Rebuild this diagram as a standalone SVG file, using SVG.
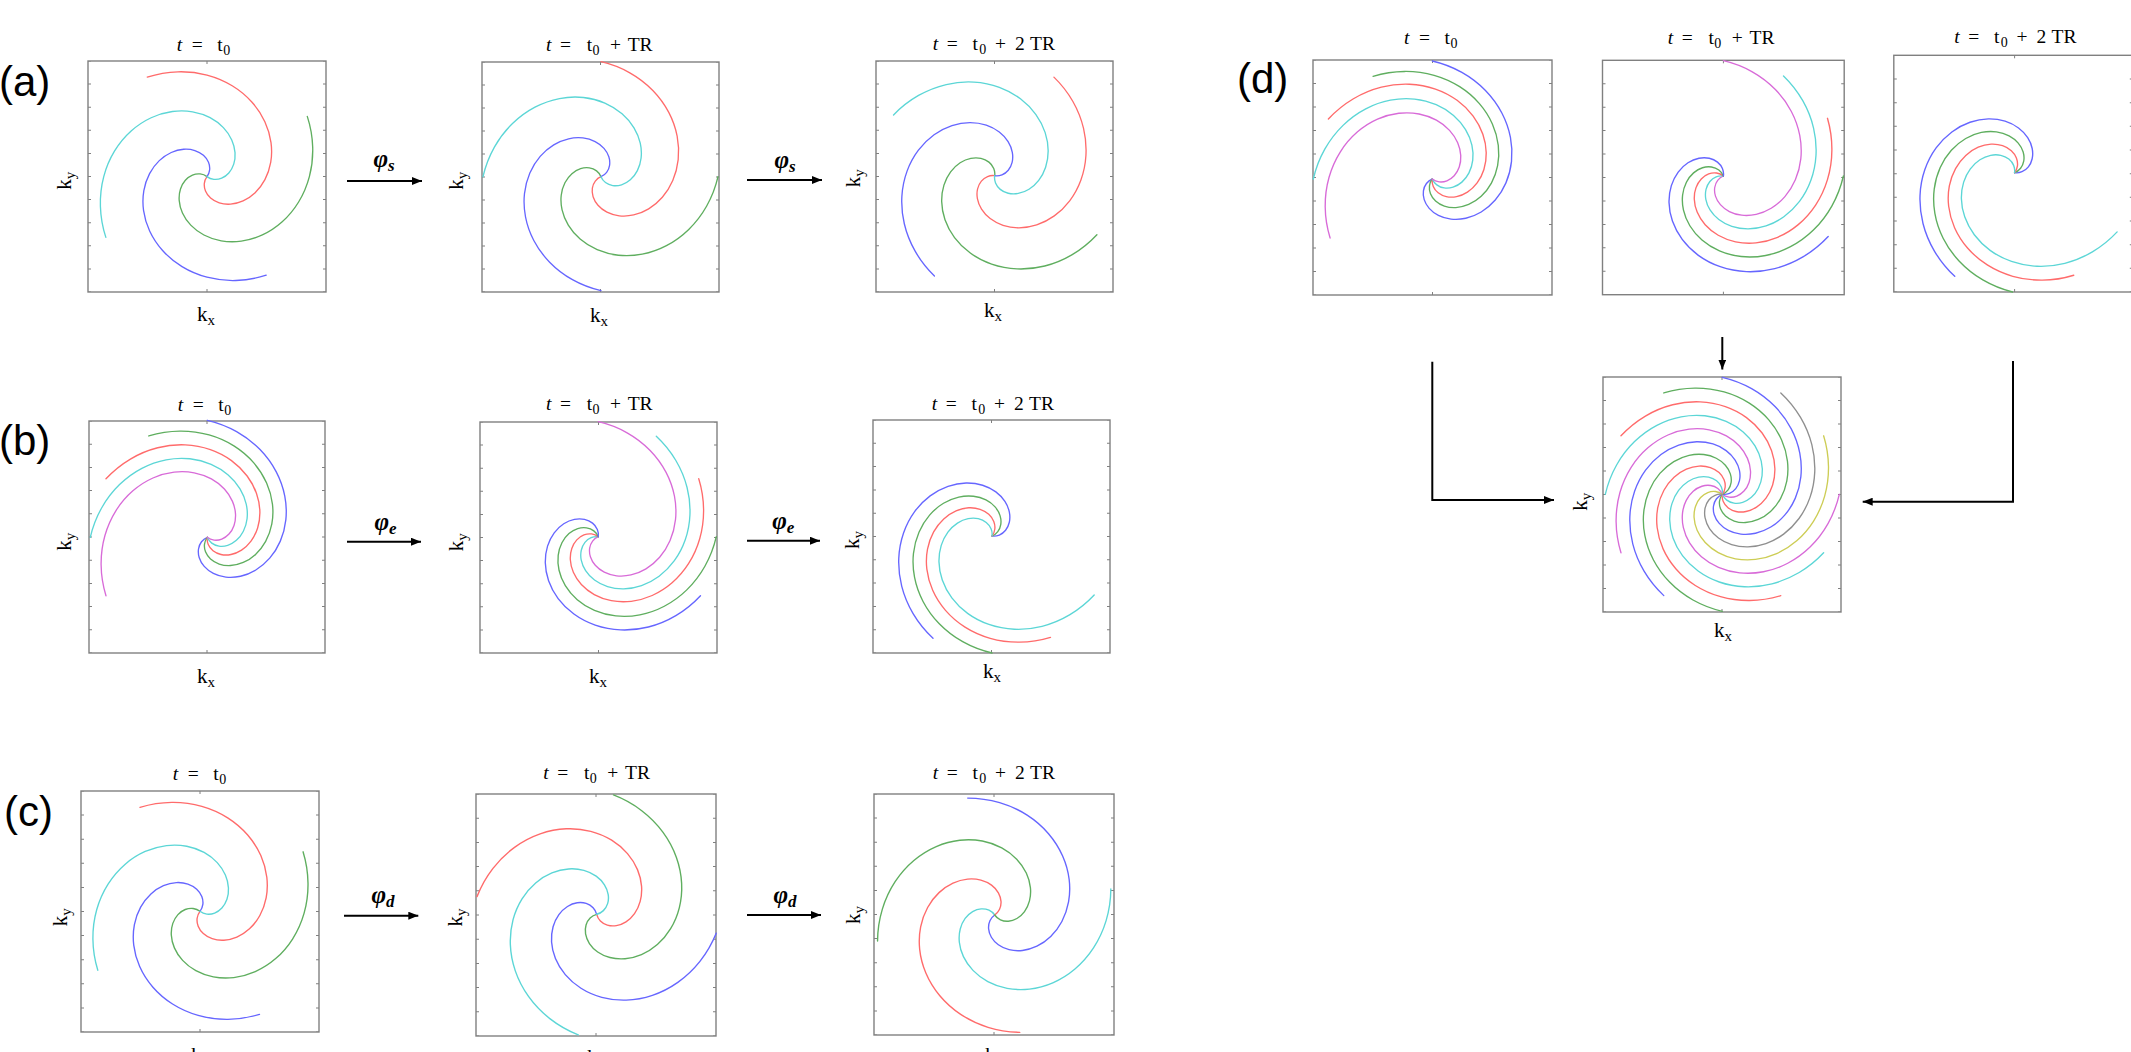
<svg xmlns="http://www.w3.org/2000/svg" width="2131" height="1052" viewBox="0 0 2131 1052">
<defs>
<style>
.bx{fill:none;stroke:#808080;stroke-width:1.4}
.tk{stroke:#808080;stroke-width:3;stroke-dashoffset:.5;fill:none}
.tc{stroke:#808080;stroke-width:1;fill:none}
use.a{fill:none;stroke-width:1.15;stroke-linecap:round}
.r{stroke:#ff6b6b}.g{stroke:#5fae5f}.b{stroke:#6666ff}.c{stroke:#5cd6d6}.m{stroke:#d86bd8}.y{stroke:#cdcd55}.k{stroke:#8f8f8f}
text{fill:#000}
.tt{font-family:"Liberation Serif","DejaVu Serif",serif;font-size:19.5px}
.it{font-style:italic}
.sb{font-size:14px}
.kl{font-family:"Liberation Serif","DejaVu Serif",serif;font-size:21px}
.ks{font-size:15px}
.ph{font-family:"Liberation Serif","DejaVu Serif",serif;font-size:25px;font-weight:bold;font-style:italic}
.ps{font-size:17px}
.pl{font-family:"Liberation Sans",Arial,sans-serif;font-size:42px}
.ar{stroke:#000;stroke-width:2;fill:none}
</style>
<path id="arm" d="M0 0C2.08 0 4.16-.57 6.02-1.67C7.88-2.77 9.51-4.4 10.71-6.44C11.92-8.48 12.7-10.93 12.91-13.6C13.12-16.28 12.75-19.17 11.74-22.07C10.73-24.97 9.06-27.87 6.76-30.51C4.46-33.15 1.53-35.55-1.96-37.45C-5.45-39.35-9.48-40.77-13.88-41.49C-18.28-42.21-23.06-42.24-27.96-41.45C-32.86-40.66-37.89-39.030-42.77-36.53C-47.65-34.03-52.37-30.64-56.64-26.41C-60.91-22.18-64.73-17.12-67.81-11.35C-70.89-5.58-73.23 .9-74.59 7.84C-75.96 14.78-76.35 22.2-75.6 29.78C-74.85 37.36-72.97 45.1-69.88 52.66C-66.8 60.22-62.51 67.58-57.07 74.38C-51.63 81.18-45.04 87.41-37.46 92.72"/>
<marker id="ah" viewBox="0 0 10 8" markerWidth="10" markerHeight="8" refX="10" refY="4" orient="auto" markerUnits="userSpaceOnUse"><path d="M0 0L10 4L0 8z" fill="#000"/></marker>
</defs>
<rect width="2131" height="1052" fill="#fff"/>

<g id="labels">
<text class="pl" x="-1" y="96">(a)</text>
<text class="pl" x="-1" y="455">(b)</text>
<text class="pl" x="4" y="826">(c)</text>
<text class="pl" x="1237" y="93">(d)</text>
</g>

<g id="panel-a1">
<rect class="bx" x="88" y="61" width="238" height="231"/>
<line class="tk" x1="89.5" y1="61" x2="89.5" y2="292" style="stroke-dasharray:1 22.1"/>
<line class="tk" x1="324.5" y1="61" x2="324.5" y2="292" style="stroke-dasharray:1 22.1"/>
<path class="tc" d="M207 61v3M207 292v-3"/>
<use href="#arm" class="a r" transform="translate(207 176.6) rotate(127) scale(1.16)"/>
<use href="#arm" class="a g" transform="translate(207 176.6) rotate(217) scale(1.17)"/>
<use href="#arm" class="a b" transform="translate(207 176.6) rotate(307) scale(1.15)"/>
<use href="#arm" class="a c" transform="translate(207 176.6) rotate(37) scale(1.18)"/>
<text class="tt"><tspan class="it" x="176.7" y="50.5">t</tspan><tspan x="191.7" y="50.5">=</tspan><tspan x="217.3" y="50.5">t</tspan><tspan class="sb" x="223.2" y="54.5">0</tspan></text>
<text class="kl" x="206" y="320.7" text-anchor="middle">k<tspan class="ks" dy="4">x</tspan></text>
<text class="kl" text-anchor="middle" transform="translate(71 180.8) rotate(-90)">k<tspan class="ks" dy="4">y</tspan></text>
</g>

<g id="panel-a2">
<rect class="bx" x="482" y="62" width="237" height="230"/>
<line class="tk" x1="483.5" y1="62" x2="483.5" y2="292" style="stroke-dasharray:1 22"/>
<line class="tk" x1="717.5" y1="62" x2="717.5" y2="292" style="stroke-dasharray:1 22"/>
<path class="tc" d="M600.5 62v3M600.5 292v-3"/>
<use href="#arm" class="a r" transform="translate(601 176.7) rotate(158) scale(1.15)"/>
<use href="#arm" class="a g" transform="translate(601 176.7) rotate(248) scale(1.17)"/>
<use href="#arm" class="a b" transform="translate(601 176.7) rotate(338) scale(1.14)"/>
<use href="#arm" class="a c" transform="translate(601 176.7) rotate(68) scale(1.18)"/>
<text class="tt"><tspan class="it" x="546" y="50.5">t</tspan><tspan x="560" y="50.5">=</tspan><tspan x="586.7" y="50.5">t</tspan><tspan class="sb" x="592.5" y="54.5">0</tspan><tspan x="610" y="50.5">+</tspan><tspan x="627.7" y="50.5">TR</tspan></text>
<text class="kl" x="599" y="321.7" text-anchor="middle">k<tspan class="ks" dy="4">x</tspan></text>
<text class="kl" text-anchor="middle" transform="translate(463.3 180.8) rotate(-90)">k<tspan class="ks" dy="4">y</tspan></text>
</g>

<g id="panel-a3">
<rect class="bx" x="876" y="61" width="237" height="231"/>
<line class="tk" x1="877.5" y1="61" x2="877.5" y2="292" style="stroke-dasharray:1 22.1"/>
<line class="tk" x1="1111.5" y1="61" x2="1111.5" y2="292" style="stroke-dasharray:1 22.1"/>
<path class="tc" d="M994.5 61v3M994.5 292v-3"/>
<use href="#arm" class="a r" transform="translate(994.7 175.7) rotate(189) scale(1.15)"/>
<use href="#arm" class="a g" transform="translate(994.7 175.7) rotate(278) scale(1.18)"/>
<use href="#arm" class="a b" transform="translate(994.7 175.7) rotate(9) scale(1.17)"/>
<use href="#arm" class="a c" transform="translate(994.7 175.7) rotate(99) scale(1.18)"/>
<text class="tt"><tspan class="it" x="932.7" y="50">t</tspan><tspan x="946.7" y="50">=</tspan><tspan x="972.4" y="50">t</tspan><tspan class="sb" x="979.2" y="54">0</tspan><tspan x="995" y="50">+</tspan><tspan x="1015" y="50">2</tspan><tspan x="1030" y="50">TR</tspan></text>
<text class="kl" x="993" y="316.7" text-anchor="middle">k<tspan class="ks" dy="4">x</tspan></text>
<text class="kl" text-anchor="middle" transform="translate(860 178.3) rotate(-90)">k<tspan class="ks" dy="4">y</tspan></text>
</g>

<g id="panel-b1">
<rect class="bx" x="89" y="421" width="236" height="232"/>
<line class="tk" x1="90.5" y1="421" x2="90.5" y2="653" style="stroke-dasharray:1 22.2"/>
<line class="tk" x1="323.5" y1="421" x2="323.5" y2="653" style="stroke-dasharray:1 22.2"/>
<path class="tc" d="M207 421v3M207 653v-3"/>
<use href="#arm" class="a b" transform="translate(207.3 537.3) rotate(158) scale(1.17)"/>
<use href="#arm" class="a g" transform="translate(207.3 537.3) rotate(128) scale(1.17)"/>
<use href="#arm" class="a r" transform="translate(207.3 537.3) rotate(98) scale(1.17)"/>
<use href="#arm" class="a c" transform="translate(207.3 537.3) rotate(68) scale(1.17)"/>
<use href="#arm" class="a m" transform="translate(207.3 537.3) rotate(38) scale(1.17)"/>
<text class="tt"><tspan class="it" x="177.7" y="410.5">t</tspan><tspan x="192.7" y="410.5">=</tspan><tspan x="218.3" y="410.5">t</tspan><tspan class="sb" x="224.2" y="414.5">0</tspan></text>
<text class="kl" x="206" y="683.3" text-anchor="middle">k<tspan class="ks" dy="4">x</tspan></text>
<text class="kl" text-anchor="middle" transform="translate(71 541.7) rotate(-90)">k<tspan class="ks" dy="4">y</tspan></text>
</g>

<g id="panel-b2">
<rect class="bx" x="480" y="422" width="237" height="231"/>
<line class="tk" x1="481.5" y1="422" x2="481.5" y2="653" style="stroke-dasharray:1 22.1"/>
<line class="tk" x1="715.5" y1="422" x2="715.5" y2="653" style="stroke-dasharray:1 22.1"/>
<path class="tc" d="M598.5 422v3M598.5 653v-3"/>
<use href="#arm" class="a m" transform="translate(598.3 536.7) rotate(158) scale(1.15)"/>
<use href="#arm" class="a c" transform="translate(598.3 536.7) rotate(188) scale(1.16)"/>
<use href="#arm" class="a r" transform="translate(598.3 536.7) rotate(218) scale(1.16)"/>
<use href="#arm" class="a g" transform="translate(598.3 536.7) rotate(248) scale(1.18)"/>
<use href="#arm" class="a b" transform="translate(598.3 536.7) rotate(278) scale(1.18)"/>
<text class="tt"><tspan class="it" x="546" y="410">t</tspan><tspan x="560" y="410">=</tspan><tspan x="586.7" y="410">t</tspan><tspan class="sb" x="592.5" y="414">0</tspan><tspan x="610" y="410">+</tspan><tspan x="627.7" y="410">TR</tspan></text>
<text class="kl" x="598" y="683.3" text-anchor="middle">k<tspan class="ks" dy="4">x</tspan></text>
<text class="kl" text-anchor="middle" transform="translate(463.3 542.3) rotate(-90)">k<tspan class="ks" dy="4">y</tspan></text>
</g>

<g id="panel-b3">
<rect class="bx" x="873" y="420" width="237" height="233"/>
<line class="tk" x1="874.5" y1="420" x2="874.5" y2="653" style="stroke-dasharray:1 22.3"/>
<line class="tk" x1="1108.5" y1="420" x2="1108.5" y2="653" style="stroke-dasharray:1 22.3"/>
<path class="tc" d="M991.5 420v3M991.5 653v-3"/>
<use href="#arm" class="a b" transform="translate(992 536) rotate(8) scale(1.18)"/>
<use href="#arm" class="a g" transform="translate(992 536) rotate(338) scale(1.17)"/>
<use href="#arm" class="a r" transform="translate(992 536) rotate(308) scale(1.17)"/>
<use href="#arm" class="a c" transform="translate(992 536) rotate(278) scale(1.18)"/>
<text class="tt"><tspan class="it" x="931.7" y="410">t</tspan><tspan x="945.7" y="410">=</tspan><tspan x="971.4" y="410">t</tspan><tspan class="sb" x="978.2" y="414">0</tspan><tspan x="994" y="410">+</tspan><tspan x="1014" y="410">2</tspan><tspan x="1029" y="410">TR</tspan></text>
<text class="kl" x="992" y="678.3" text-anchor="middle">k<tspan class="ks" dy="4">x</tspan></text>
<text class="kl" text-anchor="middle" transform="translate(859.3 540) rotate(-90)">k<tspan class="ks" dy="4">y</tspan></text>
</g>

<g id="panel-c1">
<rect class="bx" x="81" y="791" width="238" height="241"/>
<line class="tk" x1="82.5" y1="791" x2="82.5" y2="1032" style="stroke-dasharray:1 23.1"/>
<line class="tk" x1="317.5" y1="791" x2="317.5" y2="1032" style="stroke-dasharray:1 23.1"/>
<path class="tc" d="M200 791v3M200 1032v-3"/>
<use href="#arm" class="a r" transform="translate(200 911.3) rotate(128) scale(1.2)"/>
<use href="#arm" class="a g" transform="translate(200 911.3) rotate(218) scale(1.19)"/>
<use href="#arm" class="a b" transform="translate(200 911.3) rotate(308) scale(1.19)"/>
<use href="#arm" class="a c" transform="translate(200 911.3) rotate(38) scale(1.18)"/>
<text class="tt"><tspan class="it" x="172.7" y="780">t</tspan><tspan x="187.7" y="780">=</tspan><tspan x="213.3" y="780">t</tspan><tspan class="sb" x="219.2" y="784">0</tspan></text>
<text class="kl" x="200" y="1062" text-anchor="middle">k<tspan class="ks" dy="4">x</tspan></text>
<text class="kl" text-anchor="middle" transform="translate(66.7 917.3) rotate(-90)">k<tspan class="ks" dy="4">y</tspan></text>
</g>

<g id="panel-c2">
<rect class="bx" x="476" y="794" width="240" height="242"/>
<line class="tk" x1="477.5" y1="794" x2="477.5" y2="1036" style="stroke-dasharray:1 23.2"/>
<line class="tk" x1="714.5" y1="794" x2="714.5" y2="1036" style="stroke-dasharray:1 23.2"/>
<path class="tc" d="M596 794v3M596 1036v-3"/>
<use href="#arm" class="a r" transform="translate(596.7 914.3) rotate(76.4) scale(1.21)"/>
<use href="#arm" class="a g" transform="translate(596.7 914.3) rotate(166) scale(1.205)"/>
<use href="#arm" class="a b" transform="translate(596.7 914.3) rotate(257) scale(1.21)"/>
<use href="#arm" class="a c" transform="translate(596.7 914.3) rotate(346.7) scale(1.22)"/>
<text class="tt"><tspan class="it" x="543.3" y="779.3">t</tspan><tspan x="557.3" y="779.3">=</tspan><tspan x="584" y="779.3">t</tspan><tspan class="sb" x="589.8" y="783.3">0</tspan><tspan x="607.3" y="779.3">+</tspan><tspan x="625" y="779.3">TR</tspan></text>
<text class="kl" x="596" y="1064" text-anchor="middle">k<tspan class="ks" dy="4">x</tspan></text>
<text class="kl" text-anchor="middle" transform="translate(461.7 917.5) rotate(-90)">k<tspan class="ks" dy="4">y</tspan></text>
</g>

<g id="panel-c3">
<rect class="bx" x="874" y="794" width="240" height="241"/>
<line class="tk" x1="875.5" y1="794" x2="875.5" y2="1035" style="stroke-dasharray:1 23.1"/>
<line class="tk" x1="1112.5" y1="794" x2="1112.5" y2="1035" style="stroke-dasharray:1 23.1"/>
<path class="tc" d="M994 794v3M994 1035v-3"/>
<use href="#arm" class="a b" transform="translate(994.7 915) rotate(145) scale(1.2)"/>
<use href="#arm" class="a c" transform="translate(994.7 915) rotate(235.4) scale(1.19)"/>
<use href="#arm" class="a r" transform="translate(994.7 915) rotate(325.9) scale(1.2)"/>
<use href="#arm" class="a g" transform="translate(994.7 915) rotate(55.5) scale(1.2)"/>
<text class="tt"><tspan class="it" x="932.7" y="779.3">t</tspan><tspan x="946.7" y="779.3">=</tspan><tspan x="972.4" y="779.3">t</tspan><tspan class="sb" x="979.2" y="783.3">0</tspan><tspan x="995" y="779.3">+</tspan><tspan x="1015" y="779.3">2</tspan><tspan x="1030" y="779.3">TR</tspan></text>
<text class="kl" x="994" y="1062" text-anchor="middle">k<tspan class="ks" dy="4">x</tspan></text>
<text class="kl" text-anchor="middle" transform="translate(860 915) rotate(-90)">k<tspan class="ks" dy="4">y</tspan></text>
</g>

<g id="panel-d1">
<rect class="bx" x="1313" y="60" width="239" height="235"/>
<line class="tk" x1="1314.5" y1="60" x2="1314.5" y2="295" style="stroke-dasharray:1 22.5"/>
<line class="tk" x1="1550.5" y1="60" x2="1550.5" y2="295" style="stroke-dasharray:1 22.5"/>
<path class="tc" d="M1432.5 60v3M1432.5 295v-3"/>
<use href="#arm" class="a b" transform="translate(1432.3 179) rotate(158) scale(1.18)"/>
<use href="#arm" class="a g" transform="translate(1432.3 179) rotate(128) scale(1.185)"/>
<use href="#arm" class="a r" transform="translate(1432.3 179) rotate(98) scale(1.2)"/>
<use href="#arm" class="a c" transform="translate(1432.3 179) rotate(68) scale(1.19)"/>
<use href="#arm" class="a m" transform="translate(1432.3 179) rotate(38) scale(1.18)"/>
<text class="tt"><tspan class="it" x="1404" y="44">t</tspan><tspan x="1419" y="44">=</tspan><tspan x="1444.6" y="44">t</tspan><tspan class="sb" x="1450.5" y="48">0</tspan></text>
</g>

<g id="panel-d2">
<rect class="bx" x="1602.5" y="60.3" width="241.7" height="234.4"/>
<line class="tk" x1="1604" y1="60.3" x2="1604" y2="294.7" style="stroke-dasharray:1 22.44"/>
<line class="tk" x1="1842.7" y1="60.3" x2="1842.7" y2="294.7" style="stroke-dasharray:1 22.44"/>
<path class="tc" d="M1723.4 60.3v3M1723.4 294.7v-3"/>
<use href="#arm" class="a m" transform="translate(1723.4 176) rotate(158) scale(1.153)"/>
<use href="#arm" class="a c" transform="translate(1723.4 176) rotate(189) scale(1.167)"/>
<use href="#arm" class="a r" transform="translate(1723.4 176) rotate(219) scale(1.19)"/>
<use href="#arm" class="a g" transform="translate(1723.4 176) rotate(248) scale(1.2)"/>
<use href="#arm" class="a b" transform="translate(1723.4 176) rotate(278) scale(1.21)"/>
<text class="tt"><tspan class="it" x="1667.8" y="44">t</tspan><tspan x="1681.8" y="44">=</tspan><tspan x="1708.5" y="44">t</tspan><tspan class="sb" x="1714.3" y="48">0</tspan><tspan x="1731.8" y="44">+</tspan><tspan x="1749.5" y="44">TR</tspan></text>
</g>

<g id="panel-d3">
<rect class="bx" x="1893.8" y="55.3" width="239.5" height="236.7"/>
<line class="tk" x1="1895.3" y1="55.3" x2="1895.3" y2="292" style="stroke-dasharray:1 22.67"/>
<line class="tk" x1="2131.3" y1="55.3" x2="2131.3" y2="292" style="stroke-dasharray:1 22.67"/>
<path class="tc" d="M2014.6 55.3v3M2014.6 292v-3"/>
<use href="#arm" class="a b" transform="translate(2014.6 172.7) rotate(8) scale(1.197)"/>
<use href="#arm" class="a g" transform="translate(2014.6 172.7) rotate(339) scale(1.193)"/>
<use href="#arm" class="a r" transform="translate(2014.6 172.7) rotate(308) scale(1.184)"/>
<use href="#arm" class="a c" transform="translate(2014.6 172.7) rotate(278) scale(1.184)"/>
<text class="tt"><tspan class="it" x="1954.2" y="43.3">t</tspan><tspan x="1968.2" y="43.3">=</tspan><tspan x="1993.9" y="43.3">t</tspan><tspan class="sb" x="2000.7" y="47.3">0</tspan><tspan x="2016.5" y="43.3">+</tspan><tspan x="2036.5" y="43.3">2</tspan><tspan x="2051.5" y="43.3">TR</tspan></text>
</g>

<g id="panel-d-combined">
<rect class="bx" x="1603" y="377" width="238" height="235"/>
<line class="tk" x1="1604.5" y1="377" x2="1604.5" y2="612" style="stroke-dasharray:1 22.5"/>
<line class="tk" x1="1839.5" y1="377" x2="1839.5" y2="612" style="stroke-dasharray:1 22.5"/>
<path class="tc" d="M1722 377v3M1722 612v-3"/>
<use href="#arm" class="a b" transform="translate(1722.3 494.3) rotate(158) scale(1.17)"/>
<use href="#arm" class="a g" transform="translate(1722.3 494.3) rotate(128) scale(1.17)"/>
<use href="#arm" class="a r" transform="translate(1722.3 494.3) rotate(98) scale(1.17)"/>
<use href="#arm" class="a c" transform="translate(1722.3 494.3) rotate(68) scale(1.17)"/>
<use href="#arm" class="a m" transform="translate(1722.3 494.3) rotate(38) scale(1.17)"/>
<use href="#arm" class="a b" transform="translate(1722.3 494.3) rotate(8) scale(1.17)"/>
<use href="#arm" class="a g" transform="translate(1722.3 494.3) rotate(-22) scale(1.17)"/>
<use href="#arm" class="a r" transform="translate(1722.3 494.3) rotate(-52) scale(1.17)"/>
<use href="#arm" class="a c" transform="translate(1722.3 494.3) rotate(-82) scale(1.17)"/>
<use href="#arm" class="a m" transform="translate(1722.3 494.3) rotate(-112) scale(1.17)"/>
<use href="#arm" class="a y" transform="translate(1722.3 494.3) rotate(-142) scale(1.17)"/>
<use href="#arm" class="a k" transform="translate(1722.3 494.3) rotate(-172) scale(1.17)"/>
<text class="kl" x="1723" y="636.7" text-anchor="middle">k<tspan class="ks" dy="4">x</tspan></text>
<text class="kl" text-anchor="middle" transform="translate(1587.3 501.7) rotate(-90)">k<tspan class="ks" dy="4">y</tspan></text>
</g>

<g id="connectors">
<line class="ar" x1="347" y1="181" x2="422" y2="181" marker-end="url(#ah)"/>
<line class="ar" x1="747" y1="180" x2="822" y2="180" marker-end="url(#ah)"/>
<line class="ar" x1="347" y1="541.7" x2="421" y2="541.7" marker-end="url(#ah)"/>
<line class="ar" x1="747" y1="540.7" x2="820" y2="540.7" marker-end="url(#ah)"/>
<line class="ar" x1="344" y1="915.7" x2="418.3" y2="915.7" marker-end="url(#ah)"/>
<line class="ar" x1="747" y1="915" x2="821" y2="915" marker-end="url(#ah)"/>
<line class="ar" x1="1722.3" y1="337" x2="1722.3" y2="369.5" marker-end="url(#ah)"/>
<path class="ar" d="M1432.3 361.7V500H1554" marker-end="url(#ah)"/>
<path class="ar" d="M2013 361V501.7H1862.7" marker-end="url(#ah)"/>
<text class="ph" x="384" y="166.5" text-anchor="middle">φ<tspan class="ps" dy="4">s</tspan></text>
<text class="ph" x="785" y="167.5" text-anchor="middle">φ<tspan class="ps" dy="4">s</tspan></text>
<text class="ph" x="385.5" y="530" text-anchor="middle">φ<tspan class="ps" dy="4">e</tspan></text>
<text class="ph" x="783.3" y="529" text-anchor="middle">φ<tspan class="ps" dy="4">e</tspan></text>
<text class="ph" x="383" y="903" text-anchor="middle">φ<tspan class="ps" dy="4">d</tspan></text>
<text class="ph" x="785" y="902.5" text-anchor="middle">φ<tspan class="ps" dy="4">d</tspan></text>
</g>
</svg>
